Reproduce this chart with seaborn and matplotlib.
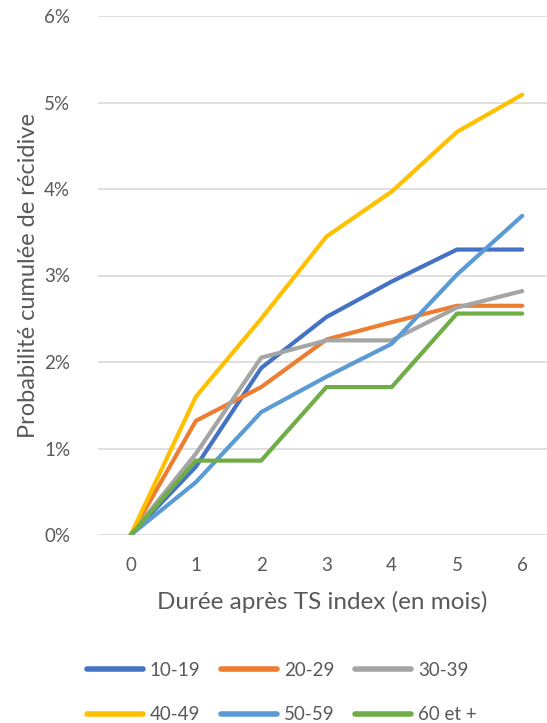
import numpy as np
import pandas as pd
import seaborn as sns
import matplotlib
matplotlib.use("Agg")
import matplotlib.pyplot as plt
from matplotlib.ticker import FuncFormatter

months = [0, 1, 2, 3, 4, 5, 6]
groups = ["10-19", "20-29", "30-39", "40-49", "50-59", "60 et +"]
v_10_19 = [0, 0.79, 1.93, 2.52, 2.93, 3.30, 3.30]
v_20_29 = [0, 1.32, 1.71, 2.26, 2.46, 2.65, 2.65]
v_30_39 = [0, 0.94, 2.05, 2.25, 2.25, 2.63, 2.82]
v_40_49 = [0, 1.60, 2.50, 3.45, 3.97, 4.66, 5.09]
v_50_59 = [0, 0.61, 1.42, 1.83, 2.21, 3.01, 3.69]
v_60 = [0, 0.86, 0.86, 1.71, 1.71, 2.56, 2.56]
colors = ["#4472C4", "#ED7D31", "#A5A5A5", "#FFC000", "#5B9BD5", "#70AD47"]

series = [v_10_19, v_20_29, v_30_39, v_40_49, v_50_59, v_60]
df = pd.DataFrame({
    "mois": months * len(groups),
    "val": [v for s in series for v in s],
    "groupe": [g for g in groups for _ in months],
})

sns.set_theme(style="white")
plt.rcParams["font.family"] = ["Lato", "DejaVu Sans"]
txt = "#595959"

fig = plt.figure(figsize=(5.47, 7.23), dpi=100)
ax = fig.add_axes([98 / 547, 1 - 535 / 723, 1 - 98 / 547, (535 - 16) / 723])
sns.lineplot(data=df, x="mois", y="val", hue="groupe", palette=colors,
             linewidth=3, ax=ax, legend=True, sort=False)
for ln in ax.lines:
    ln.set_solid_capstyle("round")
    ln.set_solid_joinstyle("round")

ax.set_xlim(-0.5, 6.38)
ax.set_ylim(0, 6)
ax.set_yticks(range(0, 7))
ax.yaxis.set_major_formatter(FuncFormatter(lambda v, p: f"{int(v)}%"))
ax.set_xticks(months)
ax.grid(axis="y", color="#D9D9D9", linewidth=1.2)
ax.grid(axis="x", visible=False)
for s in ax.spines.values():
    s.set_visible(False)
ax.tick_params(axis="both", length=0, labelsize=13.5, colors=txt)
ax.tick_params(axis="y", pad=20)
ax.tick_params(axis="x", pad=16)
ax.set_xlabel("Durée après TS index (en mois)", fontsize=17.5, color=txt, labelpad=12)
ax.set_ylabel("Probabilité cumulée de récidive", fontsize=17, color=txt, labelpad=4)

handles, labels = ax.get_legend_handles_labels()
ax.get_legend().remove()
for h in handles:
    h.set_linewidth(4)
    h.set_solid_capstyle("round")
order = [0, 3, 1, 4, 2, 5]
handles = [handles[i] for i in order]
labels = [labels[i] for i in order]
leg = fig.legend(handles, labels, ncol=3, loc="upper left",
                 bbox_to_anchor=(70 / 547, 1 - 645 / 723), frameon=False,
                 fontsize=13.5, handlelength=3.0, handletextpad=0.35,
                 columnspacing=1.1, labelspacing=1.45)
for t in leg.get_texts():
    t.set_color(txt)

fig.savefig("out.png", dpi=100)
